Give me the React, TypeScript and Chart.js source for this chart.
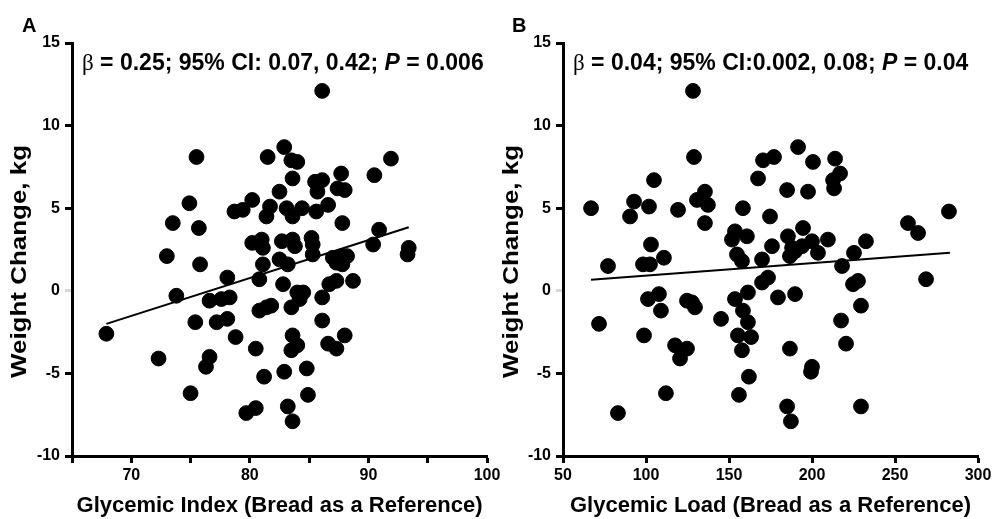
import React, { useEffect, useRef } from 'react';
import { Chart, registerables } from 'chart.js';

Chart.register(...registerables);

const SANS = '"Liberation Sans", Arial, Helvetica, sans-serif';
const SERIF = '"Liberation Serif", "DejaVu Serif", serif';

// Panel A: glycemic index vs weight change
const giA = [
  86.1, 75.5, 82.9, 81.5, 83.5, 84.0, 91.9, 90.5, 83.6, 85.5, 86.1, 85.7, 87.7, 87.4, 88.0, 82.5,
  74.9, 80.2, 78.7, 79.4, 81.7, 81.4, 83.1, 83.6, 84.4, 85.6, 86.6, 87.8, 73.5, 75.7,
  80.2, 81.0, 81.1, 82.7, 83.6, 83.8, 85.2, 85.3, 90.9, 90.4, 93.4,
  73.0, 75.8, 85.3, 87.0, 87.8, 88.2, 87.3, 87.8, 93.3, 81.1, 82.5, 83.2,
  78.1, 80.8, 82.8, 86.7, 87.3, 88.7,
  73.8, 76.6, 77.6, 78.3, 84.0, 84.5, 84.2, 86.1, 80.8, 81.4, 81.8, 83.5,
  75.4, 77.2, 78.1, 86.1, 67.9, 78.8, 83.6, 84.0, 83.5, 86.6, 87.3, 88.0, 80.5,
  72.3, 76.6, 76.3, 82.9, 84.8, 81.2, 75.0, 84.9, 79.7, 80.5, 83.2, 83.6,
];
const wcA = [
  12.1, 8.1, 8.7, 8.1, 7.9, 7.8, 8.0, 7.0, 6.8, 6.6, 6.7, 6.0, 7.1, 6.2, 6.1, 6.0,
  5.3, 5.5, 4.8, 4.9, 5.1, 4.5, 5.0, 4.5, 5.0, 4.8, 5.2, 4.1, 4.1, 3.8,
  2.9, 3.1, 2.6, 3.0, 3.1, 2.7, 3.2, 2.8, 3.7, 2.8, 2.6,
  2.1, 1.6, 2.2, 2.0, 2.1, 2.1, 1.7, 1.6, 2.2, 1.6, 1.9, 1.6,
  0.8, 0.7, 0.4, 0.4, 0.6, 0.6,
  -0.3, -0.6, -0.5, -0.4, -0.1, -0.1, -0.5, -0.4, -1.2, -1.0, -0.9, -1.0,
  -1.9, -1.9, -1.7, -1.8, -2.6, -2.8, -2.7, -3.3, -3.6, -3.2, -3.5, -2.7, -3.5,
  -4.1, -4.0, -4.6, -4.9, -4.7, -5.2, -6.2, -6.3, -7.4, -7.1, -7.0, -7.9,
];
const fitAx = [67.9, 93.4];
const fitAy = [-2.0, 3.85];

// Panel B: glycemic load vs weight change
const glB = [
  128.3, 128.9, 191.6, 170.5, 177.1, 200.6, 213.9, 216.9, 212.7, 213.3, 167.5, 185.0, 197.6, 104.8,
  66.9, 92.8, 90.4, 101.8, 119.3, 130.7, 135.5, 137.3, 135.5, 158.4, 174.7, 257.8, 263.9, 282.5,
  103.0, 151.8, 153.6, 160.8, 185.5, 194.6, 200.0, 209.6, 232.5, 175.9, 188.0, 194.0, 203.6, 225.3,
  77.1, 98.2, 102.4, 110.8, 154.8, 157.8, 169.9, 186.7, 189.8, 218.1,
  169.9, 173.5, 224.7, 227.7, 268.7,
  71.7, 101.2, 107.8, 109.0, 124.7, 127.7, 129.5, 153.6, 161.4, 158.4, 161.4, 179.5, 189.8, 229.5,
  145.2, 217.5, 98.8, 155.4, 163.3, 117.5, 124.7, 120.5, 157.8, 186.7, 220.5,
  200.0, 199.4, 162.0, 112.0, 156.0, 83.1, 185.0, 187.3, 229.5,
];
const wcB = [
  12.1, 8.1, 8.7, 7.9, 8.1, 7.8, 8.0, 7.1, 6.7, 6.2, 6.8, 6.1, 6.0, 6.7,
  5.0, 5.4, 4.5, 5.1, 4.9, 5.5, 6.0, 5.2, 4.1, 5.0, 4.5, 4.1, 3.5, 4.8,
  2.8, 3.1, 3.6, 3.3, 3.3, 3.8, 3.0, 3.1, 3.0, 2.7, 2.6, 2.7, 2.3, 2.3,
  1.5, 1.6, 1.6, 2.0, 2.2, 1.8, 1.9, 2.1, 2.4, 1.5,
  0.5, 0.8, 0.4, 0.6, 0.7,
  -2.0, -0.5, -0.2, -1.2, -0.6, -0.7, -1.0, -0.5, -0.1, -1.2, -1.9, -0.4, -0.2, -0.9,
  -1.7, -1.8, -2.7, -2.7, -2.8, -3.3, -3.5, -4.1, -3.6, -3.5, -3.2,
  -4.6, -4.9, -5.2, -6.2, -6.3, -7.4, -7.0, -7.9, -7.0,
];
const fitBx = [66.9, 283.1];
const fitBy = [0.67, 2.3];

const yTitle = 'Weight Change, kg';
const xTitleA = 'Glycemic Index (Bread as a Reference)';
const xTitleB = 'Glycemic Load (Bread as a Reference)';
const annA = ['β', ' = 0.25; 95% CI: 0.07, 0.42; ', 'P', ' = 0.006'];
const annB = ['β', ' = 0.04; 95% CI:0.002, 0.08; ', 'P', ' = 0.04'];

type PanelCfg = {
  letter: string;
  letterX: number;
  ann: string[];
  xs: number[];
  ys: number[];
  fx: number[];
  fy: number[];
  xMin: number;
  xMax: number;
  xStep: number;
  labelEvery: number;
  xTitle: string;
  yAxisWidth: number;
  padRight: number;
};

function makeTextPlugin(cfg: PanelCfg) {
  return {
    id: 'panelText',
    afterDraw(chart: any) {
      const ctx = chart.ctx as CanvasRenderingContext2D;
      const a = chart.chartArea;
      ctx.save();
      ctx.fillStyle = '#000';
      ctx.textAlign = 'left';
      ctx.textBaseline = 'alphabetic';
      ctx.font = `bold 20px ${SANS}`;
      ctx.fillText(cfg.letter, cfg.letterX, 32);
      const fonts = [`23px ${SERIF}`, `bold 23px ${SANS}`, `italic bold 23px ${SANS}`, `bold 23px ${SANS}`];
      let x = a.left + 10;
      cfg.ann.forEach((s, i) => {
        ctx.font = fonts[i];
        ctx.fillText(s, x, 70);
        x += ctx.measureText(s).width;
      });
      ctx.translate(20, (a.top + a.bottom) / 2 + 12);
      ctx.rotate(-Math.PI / 2);
      ctx.scale(1.18, 1);
      ctx.font = `bold 22px ${SANS}`;
      ctx.textAlign = 'center';
      ctx.textBaseline = 'middle';
      ctx.fillText(yTitle, 0, 0);
      ctx.restore();
    },
  };
}

function Panel({ cfg, left, width }: { cfg: PanelCfg; left: number; width: number }) {
  const ref = useRef<HTMLCanvasElement | null>(null);
  useEffect(() => {
    if (!ref.current) return;
    const points = cfg.xs.map((x, i) => ({ x, y: cfg.ys[i] }));
    const fit = cfg.fx.map((x, i) => ({ x, y: cfg.fy[i] }));
    const chart = new Chart(ref.current, {
      type: 'scatter',
      data: {
        datasets: [
          {
            type: 'line',
            data: fit,
            borderColor: '#000',
            borderWidth: 2,
            pointRadius: 0,
            fill: false,
          } as any,
          {
            data: points,
            backgroundColor: '#000',
            borderColor: '#000',
            borderWidth: 1,
            pointRadius: 7.4,
          },
        ],
      },
      options: {
        animation: false,
        responsive: false,
        layout: { padding: { left: 0, top: 43, right: cfg.padRight, bottom: 0 } },
        plugins: { legend: { display: false }, tooltip: { enabled: false } },
        scales: {
          x: {
            type: 'linear',
            min: cfg.xMin,
            max: cfg.xMax,
            afterFit: (s: any) => {
              s.height = 63;
            },
            border: { display: true, color: '#000', width: 3 },
            grid: { display: true, drawOnChartArea: false, drawTicks: true, tickLength: 7, tickWidth: 3, color: '#000' },
            ticks: {
              stepSize: cfg.xStep,
              padding: 3,
              color: '#000',
              font: { family: SANS, size: 16, weight: 'bold' },
              callback: (v: any) => (Number(v) % cfg.labelEvery === 0 ? String(v) : ''),
              maxRotation: 0,
              autoSkip: false,
            },
            title: {
              display: true,
              text: cfg.xTitle,
              color: '#000',
              font: { family: SANS, size: 22, weight: 'bold' },
              padding: { top: 0, bottom: 0 },
            },
          },
          y: {
            type: 'linear',
            min: -10,
            max: 15,
            afterFit: (s: any) => {
              s.width = cfg.yAxisWidth;
            },
            border: { display: true, color: '#000', width: 3 },
            grid: {
              display: true,
              drawOnChartArea: false,
              drawTicks: true,
              tickLength: 7,
              tickWidth: 3,
              color: (c: any) => (c.tick && c.tick.value === 0 ? '#d6d6d6' : '#000'),
            },
            ticks: {
              stepSize: 5,
              padding: 5,
              color: '#000',
              font: { family: SANS, size: 16, weight: 'bold' },
            },
          },
        },
      },
      plugins: [makeTextPlugin(cfg)],
    });
    return () => chart.destroy();
  }, [cfg]);
  return (
    <canvas
      ref={ref}
      width={width}
      height={519}
      style={{ position: 'absolute', left, top: 0, width, height: 519 }}
    />
  );
}

const cfgA: PanelCfg = {
  letter: 'A',
  letterX: 22,
  ann: annA,
  xs: giA,
  ys: wcA,
  fx: fitAx,
  fy: fitAy,
  xMin: 65,
  xMax: 100,
  xStep: 5,
  labelEvery: 10,
  xTitle: xTitleA,
  yAxisWidth: 72,
  padRight: 23,
};

const cfgB: PanelCfg = {
  letter: 'B',
  letterX: 20,
  ann: annB,
  xs: glB,
  ys: wcB,
  fx: fitBx,
  fy: fitBy,
  xMin: 50,
  xMax: 300,
  xStep: 50,
  labelEvery: 50,
  xTitle: xTitleB,
  yAxisWidth: 71,
  padRight: 17,
};

export default function App() {
  return (
    <div style={{ position: 'absolute', left: 0, top: 0, width: 995, height: 519, background: '#fff', overflow: 'hidden' }}>
      <Panel cfg={cfgA} left={0} width={510} />
      <Panel cfg={cfgB} left={492} width={503} />
    </div>
  );
}
